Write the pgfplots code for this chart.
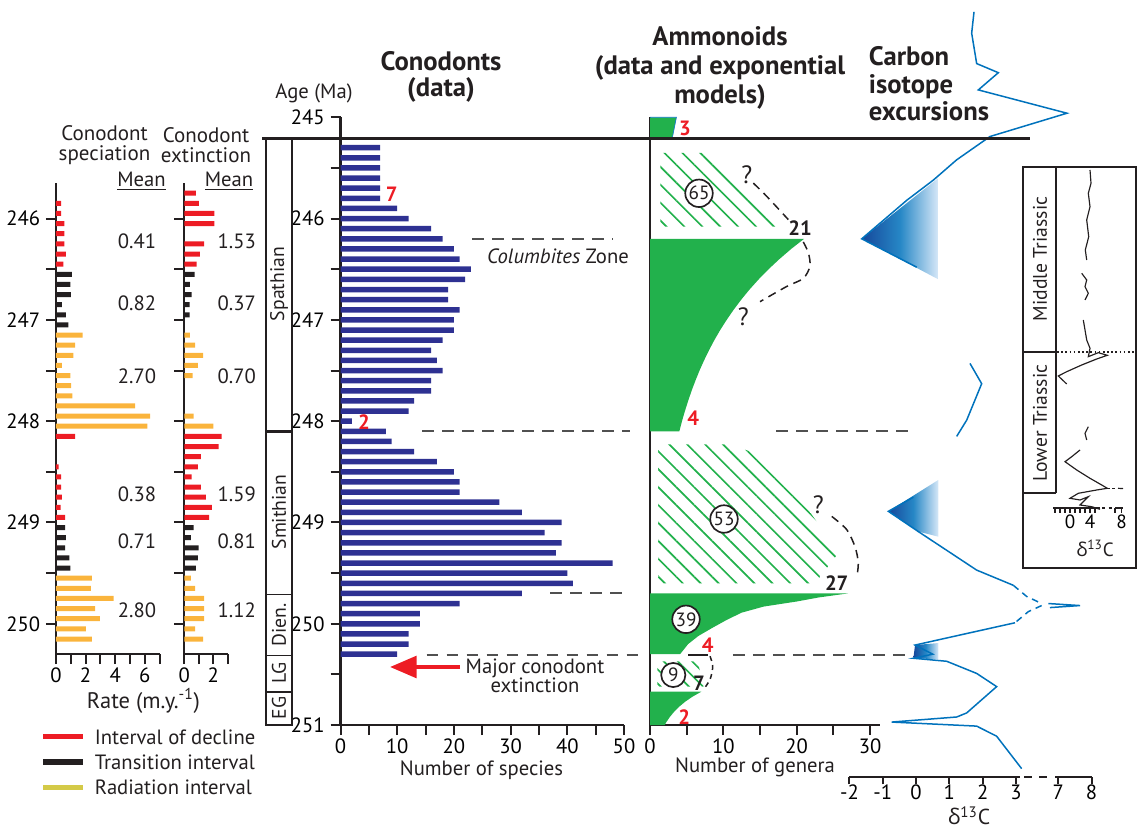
\documentclass[border=0pt]{standalone}
\usepackage{pgfplots}
\pgfplotsset{compat=1.18}
\usepackage{fontspec}
\setmainfont{PT Sans}
\newfontfamily\grk{Open Sans}
\usetikzlibrary{patterns.meta,arrows.meta}
\definecolor{cred}{RGB}{237,28,36}
\definecolor{cblk}{RGB}{35,31,32}
\definecolor{cyel}{RGB}{250,180,60}
\definecolor{cnavy}{RGB}{46,49,146}
\definecolor{cgreen}{RGB}{34,177,76}
\definecolor{cblue}{RGB}{0,114,188}
\definecolor{cdark}{RGB}{22,72,155}
\definecolor{clight}{RGB}{215,232,248}
\definecolor{cgray}{RGB}{80,80,80}
\definecolor{clegy}{RGB}{212,202,72}
\newcommand{\fn}{\fontsize{12.4}{14}\selectfont}
\pgfplotsset{
  rowax/.style={scale only axis, anchor=center, clip=false,
    font=\fn, tick label style={font=\fn},
    /pgf/number format/assume math mode=true,
    y dir=reverse,
    axis x line=bottom, axis y line=left,
    axis line style={-, line width=1.4pt, draw=cblk},
    tick style={line width=1.2pt, draw=cblk},
    xticklabel style={yshift=1.5pt},
    major tick length=6pt, tick align=outside},
}
\begin{document}
\begin{tikzpicture}
\path[use as bounding box] (0,0) rectangle (682.2pt,499.2pt);

% ---------------- Conodont speciation ----------------
\begin{axis}[rowax, at={(64.68pt,248.01pt)}, width=62.16pt, height=282.66pt,
  xmin=0, xmax=7, ymin=245.65, ymax=250.3,
  xtick={0,1,2,3,4,5,6,7}, xticklabels={0,,2,,4,,6,},
  ytick={246,246.5,247,247.5,248,248.5,249,249.5,250},
  yticklabels={246,,247,,248,,249,,250}]
\addplot[xbar, bar width=3pt, fill=cred, draw=none] coordinates {
 (0.34,245.85) (0.34,245.95) (0.56,246.05) (0.56,246.15) (0.56,246.25) (0.67,246.35) (0.49,246.45)
 (1.30,248.15) (0.18,248.45) (0.34,248.55) (0.34,248.65) (0.40,248.75) (0.31,248.85) (0.61,248.95)};
\addplot[xbar, bar width=3pt, fill=cblk, draw=none] coordinates {
 (1.08,246.55) (0.97,246.65) (1.01,246.75) (0.40,246.85) (0.67,246.95) (0.83,247.05)
 (0.61,249.05) (0.67,249.15) (0.61,249.25) (0.90,249.35) (0.97,249.45)};
\addplot[xbar, bar width=3pt, fill=cyel, draw=none] coordinates {
 (1.80,247.15) (1.30,247.25) (1.17,247.35) (0.40,247.45) (0.97,247.55) (1.03,247.65) (1.10,247.75)
 (5.35,247.85) (6.36,247.95) (6.18,248.05)
 (2.43,249.55) (2.36,249.65) (3.89,249.75) (2.65,249.85) (2.97,249.95) (2.02,250.05) (2.43,250.15)};
\end{axis}

% ---------------- Conodont extinction ----------------
\begin{axis}[rowax, at={(123.63pt,248.01pt)}, width=26.1pt, height=282.66pt,
  xmin=0, xmax=3, ymin=245.65, ymax=250.3,
  xtick={0,1,2,3}, xticklabels={0,,2,},
  ytick={246,246.5,247,247.5,248,248.5,249,249.5,250}, yticklabels={}]
\addplot[xbar, bar width=3pt, fill=cred, draw=none] coordinates {
 (0.80,245.75) (1.00,245.85) (2.07,245.95) (2.07,246.05) (1.36,246.25) (1.08,246.35) (0.85,246.45)
 (2.57,248.15) (2.37,248.25) (1.15,248.35) (0.94,248.45) (0.51,248.55) (1.15,248.65) (1.49,248.75) (1.91,248.85) (1.72,248.95)};
\addplot[xbar, bar width=3pt, fill=cblk, draw=none] coordinates {
 (0.71,246.55) (0.39,246.65) (0.51,246.75) (0.37,246.85) (0.37,246.95)
 (0.64,249.05) (0.46,249.15) (0.99,249.25) (0.94,249.35) (0.80,249.45)};
\addplot[xbar, bar width=3pt, fill=cyel, draw=none] coordinates {
 (0.39,247.15) (0.74,247.25) (1.29,247.35) (0.94,247.45) (0.57,247.55) (0.64,247.95) (2.00,248.05)
 (0.46,249.55) (0.74,249.65) (1.36,249.75) (1.36,249.85) (1.36,249.95) (0.74,250.05) (1.29,250.15)};
\end{axis}

% ---------------- Conodonts (number of species) ----------------
\begin{axis}[rowax, at={(289.35pt,246.48pt)}, width=170.1pt, height=364.68pt,
  xmin=0, xmax=50, ymin=245, ymax=251,
  xtick={0,5,10,15,20,25,30,35,40,45,50}, xticklabels={0,,10,,20,,30,,40,,50},
  ytick={245,245.5,246,246.5,247,247.5,248,248.5,249,249.5,250,250.5,251},
  yticklabels={245,,246,,247,,248,,249,,250,,251}]
\addplot[xbar, bar width=3.3pt, fill=cnavy, draw=none] coordinates {
 (7,245.3) (7,245.4) (7,245.5) (7,245.6) (7,245.7) (7,245.8) (10,245.9) (12,246.0)
 (16,246.1) (18,246.2) (20,246.3) (21,246.4) (23,246.5) (22,246.6) (19,246.7) (19,246.8)
 (21,246.9) (20,247.0) (20,247.1) (18,247.2) (16,247.3) (17,247.4) (18,247.5) (16,247.6)
 (16,247.7) (13,247.8) (12,247.9) (2,248.0) (8,248.1) (9,248.2) (13,248.3) (17,248.4)
 (20,248.5) (21,248.6) (21,248.7) (28,248.8) (32,248.9) (39,249.0) (36,249.1) (39,249.2)
 (38,249.3) (48,249.4) (40,249.5) (41,249.6) (32,249.7) (21,249.8) (14,249.9) (14,250.0)
 (12,250.1) (12,250.2) (10,250.3)};
\addplot[cgray, line width=1.2pt, dash pattern=on 7pt off 5pt] coordinates {(23.2,246.2) (47.9,246.2)};
\addplot[cgray, line width=1.2pt, dash pattern=on 7pt off 5pt] coordinates {(14.4,248.1) (51.1,248.1)};
\addplot[cgray, line width=1.2pt, dash pattern=on 7pt off 5pt] coordinates {(37.0,249.7) (50.6,249.7)};
\addplot[cgray, line width=1.2pt, dash pattern=on 7pt off 5pt] coordinates {(15.2,250.31) (52.8,250.31)};
\end{axis}

% ---------------- Ammonoids ----------------
\begin{axis}[rowax, at={(459.09pt,246.48pt)}, width=138.18pt, height=364.68pt,
  xmin=0, xmax=31.4, ymin=245, ymax=251,
  xtick={0,5,10,15,20,25,30}, xticklabels={0,,10,,20,,30}, ytick=\empty]
\addplot[fill=cgreen, draw=cyan!60!blue, line width=0.4pt] coordinates {(0,245) (3.6,245) (3.05,245.2) (0,245.2)};
\addplot[fill=cgreen, draw=none] coordinates {
 (0,246.2) (21,246.2) (19.24,246.3) (17.64,246.4) (16.16,246.5) (14.81,246.6) (13.57,246.7)
 (12.44,246.8) (11.40,246.9) (10.45,247.0) (9.57,247.1) (8.77,247.2) (8.04,247.3) (7.37,247.4)
 (6.75,247.5) (6.19,247.6) (5.67,247.7) (5.20,247.8) (4.76,247.9) (4.36,248.0) (4.00,248.1) (0,248.1)};
\addplot[fill=cgreen, draw=none] coordinates {
 (0,249.7) (27,249.7) (23,249.74) (20,249.78) (15.5,249.83) (12.5,249.89) (10.5,249.96)
 (8.5,250.04) (6.6,250.12) (5.2,250.2) (4.1,250.3) (0,250.3)};
\addplot[fill=cgreen, draw=none] coordinates {
 (0,250.67) (7,250.67) (5.78,250.72) (4.78,250.77) (3.95,250.82) (3.27,250.87) (2.70,250.92) (2.23,250.97) (2,251) (0,251)};
\addplot[draw=none, pattern={Lines[angle=-45,distance=7.6pt,line width=1pt]}, pattern color=cgreen] coordinates {
 (1.4,245.35) (7.5,245.35) (17.3,246.08) (1.4,246.08)};
\addplot[draw=none, pattern={Lines[angle=-45,distance=7.6pt,line width=1pt]}, pattern color=cgreen] coordinates {
 (1.1,248.23) (10.9,248.23) (14.5,248.32) (20,248.71) (25.7,249.30) (22.5,249.60) (1.1,249.60)};
\addplot[draw=none, pattern={Lines[angle=-45,distance=6pt,line width=1pt]}, pattern color=cgreen] coordinates {
 (1,250.37) (6.5,250.37) (7.3,250.62) (1,250.62)};
\addplot[cblk, line width=0.9pt, dash pattern=on 5pt off 3.5pt, smooth] coordinates {
 (14.09,245.65) (15.91,245.78) (18.86,246.01)};
\addplot[cblk, line width=0.9pt, dash pattern=on 5pt off 3.5pt, smooth] coordinates {
 (20.9,246.23) (21.6,246.34) (21.8,246.47) (20.9,246.59) (18.64,246.67) (15.0,246.82)};
\addplot[cblk, line width=0.9pt, dash pattern=on 5pt off 3.5pt, smooth] coordinates {
 (24.78,248.94) (26.82,249.07) (27.95,249.24) (28.4,249.40) (28.19,249.54)};
\addplot[cblk, line width=0.9pt, dash pattern=on 3pt off 2.5pt, smooth] coordinates {
 (8.18,250.32) (8.55,250.42) (8.18,250.55) (7.27,250.65)};
\addplot[cblk, line width=1.4pt] coordinates {(5.23,250.31) (7.95,250.31)};
\addplot[cgray, line width=1.2pt, dash pattern=on 7pt off 5pt] coordinates {(17.2,248.1) (35.5,248.1)};
\addplot[cgray, line width=1.2pt, dash pattern=on 7pt off 5pt] coordinates {(11.3,250.31) (35.5,250.31)};
\end{axis}

% ---------------- Carbon isotopes ----------------
\begin{axis}[rowax, at={(582.3pt,264.42pt)}, width=145.32pt, height=462.56pt,
  xmin=-2, xmax=5.27, ymin=243.9, ymax=251.51,
  axis y line=none, x axis line style={draw=none},
  major tick length=4.5pt, xticklabel style={yshift=1.5pt},
  xtick={-2,-1,0,1,2,3,4.27,5.27}, xticklabels={-2,-1,0,1,2,3,7,8}]
\addplot[draw=none, left color=cdark, right color=clight, middle color=cblue!85] coordinates {
 (-1.63,246.2) (0.67,245.6) (0.67,246.6)};
\addplot[draw=none, left color=cdark, right color=clight, middle color=cblue!85] coordinates {
 (-0.83,248.89) (0.67,248.58) (0.67,249.14) (0.07,249.09)};
\addplot[draw=none, left color=cdark, right color=clight, middle color=cblue!85] coordinates {
 (-0.03,250.21) (0.67,250.19) (0.67,250.35) (-0.08,250.34)};
\addplot[cblue, line width=0.9pt] coordinates {
 (1.74,243.96) (1.67,244.17) (1.82,244.47) (2.47,244.56) (1.87,244.73) (4.53,244.96) (2.22,245.19)
 (1.22,245.42) (0.52,245.62) (-0.28,245.82) (-1.63,246.2) (0.02,246.48)};
\addplot[cblue, line width=0.9pt] coordinates {(1.62,247.43) (1.97,247.63) (1.52,247.99) (1.22,248.15)};
\addplot[cblue, line width=0.9pt] coordinates {(-0.08,248.75) (-0.83,248.89) (0.07,249.09) (1.82,249.47) (2.92,249.62)};
\addplot[cblue, line width=0.9pt, dash pattern=on 4pt off 3pt] coordinates {(2.92,249.62) (3.32,249.73) (3.77,249.80)};
\addplot[cblue, line width=0.9pt, dash pattern=on 4pt off 3pt] coordinates {(3.77,249.82) (3.37,249.88) (2.97,249.99)};
\addplot[cblue, line width=0.9pt] coordinates {(3.97,249.80) (4.92,249.82) (4.02,249.84)};
\addplot[cblue, line width=0.9pt] coordinates {
 (2.97,249.99) (0.92,250.14) (-0.03,250.21) (0.5,250.30) (-0.08,250.34) (0.92,250.37) (1.82,250.49)
 (2.42,250.62) (1.52,250.88) (1.22,250.92) (-0.73,250.97) (1.82,251.01) (2.42,251.11) (3.17,251.43)};
\end{axis}

% ---------------- Inset ----------------
\begin{axis}[rowax, at={(653.01pt,296.79pt)}, width=40.02pt, height=204.78pt,
  xmin=-3, xmax=10.34, ymin=166.7, ymax=508,
  axis y line=none, x axis line style={draw=none},
  major tick length=3pt, tick style={line width=0.9pt},
  tick label style={font=\fontsize{11.5}{13}\selectfont},
  xtick={-3,-2,-1,0,1,2,3,4,5,9,10.34}, xticklabels={,,,0,,,,4,,,8},
  xticklabel style={yshift=1pt}]
\addplot[cblk, line width=0.7pt] coordinates {(4.0,170) (4.2,183.3) (3.66,193.3) (4.0,206.7) (3.34,220) (3.74,236.7) (3.06,250) (3.34,260)};
\addplot[cblk, line width=0.7pt] coordinates {(2.34,273.3) (3.34,280) (3.0,286.7) (3.66,293.3) (3.0,300)};
\addplot[cblk, line width=0.7pt] coordinates {(2.66,320) (3.0,330) (3.34,340) (4.0,348.3) (3.66,356.7) (5.66,352.7) (7.46,355.3) (5.34,359) (2.34,365) (-0.66,371.7) (-2.34,376) (-0.66,384)};
\addplot[cblk, line width=0.7pt] coordinates {(3.66,426.7) (3.0,433.3) (3.34,440)};
\addplot[cblk, line width=0.7pt] coordinates {(2.0,450) (0.34,456.7) (-1.0,461.7) (1.34,470) (4.0,478.3) (6.34,485) (7.46,488.3)};
\addplot[cblk, line width=0.7pt, dash pattern=on 1.5pt off 1.5pt] coordinates {(7.46,488.3) (9.4,488.3)};
\addplot[cblk, line width=0.7pt] coordinates {(9.6,488.3) (10.6,488.6)};
\addplot[cblk, line width=0.7pt] coordinates {(7.46,488.3) (5.34,490) (1.66,493.3) (0,498.3) (2.0,500) (3.66,496.7) (2.0,505) (4.34,506.7) (6.0,509.3)};
\end{axis}

% ---------------- annotations in pixel coordinates ----------------
\begin{scope}[x=0.6pt, y=-0.6pt, yshift=499.2pt, every node/.style={font=\fn, text=cblk}]
% titles
\node[align=center, font=\fontsize{12.6}{12}\selectfont] at (104.5,145) {Conodont\\speciation};
\node[align=center, font=\fontsize{12.6}{12}\selectfont] at (206,145) {Conodont\\extinction};
\node at (141.5,181) {\underline{Mean}};
\node at (229,181) {\underline{Mean}};
\foreach \yy/\a/\b in {241.7/0.41/1.53, 303.3/0.82/0.37, 376.7/2.70/0.70, 494/0.38/1.59, 541/0.71/0.81, 610/2.80/1.12}{
  \node at (137,\yy) {\a};
  \node at (236.7,\yy) {\b};
}
\node[font=\fontsize{13.5}{15}\selectfont] at (143.5,701) {Rate (m.y.\textsuperscript{-1})};
\draw[cred, line width=3pt] (43,737) -- (83,737);
\draw[cblk, line width=3pt] (43,762) -- (83,762);
\draw[clegy, line width=3pt] (43,787) -- (83,787);
\node[anchor=west] at (89,737) {Interval of decline};
\node[anchor=west] at (89,762) {Transition interval};
\node[anchor=west] at (89,787) {Radiation interval};

\node at (314,93) {Age (Ma)};
\node[align=center, font=\fontsize{16}{15.6}\selectfont\bfseries] at (441,77) {Conodonts\\(data)};
\node[align=center, font=\fontsize{16}{17.6}\selectfont\bfseries] at (720,68) {Ammonoids\\(data and exponential\\models)};
\node[align=left, anchor=west, font=\fontsize{16}{16.5}\selectfont\bfseries] at (863,84) {Carbon\\isotope\\excursions};

% stage boxes
\draw[line width=1.3pt, cblk] (266,138.3) rectangle (292,431.5);
\draw[line width=1pt, cblk] (266,431.5) rectangle (292,594.6);
\draw[line width=1pt, cblk] (266,594.6) rectangle (292,655.5);
\draw[line width=1pt, cblk] (266,655.5) rectangle (292,691.7);
\draw[line width=1pt, cblk] (266,691.7) rectangle (292,725);
\begin{scope}[every node/.style={font=\fontsize{11.8}{13}\selectfont, text=cblk, rotate=90}]
\node at (279,284) {Spathian};
\node at (279,512) {Smithian};
\node at (279,625) {Dien.};
\node at (279,673) {LG};
\node at (279,708) {EG};
\node at (1040,259) {Middle Triassic};
\node at (1040,423) {Lower Triassic};
\end{scope}
\draw[line width=1.5pt, cblk] (262,138.3) -- (1030,138.3);

% conodont annotations
\node[text=cred, font=\fn\bfseries] at (391.7,194.3) {7};
\node[text=cred, font=\fn\bfseries] at (364,421.7) {2};
\node at (558,256) {\textit{Columbites} Zone};
\draw[cred, line width=2.3pt, -{Triangle[length=16pt,width=13pt]}] (460,667) -- (390,667);
\node[align=center, font=\fontsize{12.4}{11.5}\selectfont] at (535,676) {Major conodont\\extinction};
\node at (481.5,770) {Number of species};

% ammonoid annotations
\node[text=cred, font=\fn\bfseries] at (685,128) {3};
\node[text=cred, font=\fn\bfseries] at (693.3,418.3) {4};
\node[text=cred, font=\fn\bfseries] at (707.7,645.7) {4};
\node[text=cred, font=\fn\bfseries] at (684.3,716.7) {2};
\node[font=\fn\bfseries] at (800,228.3) {21};
\node[font=\fn\bfseries] at (836.7,582.7) {27};
\node[font=\fn\bfseries] at (699,683.3) {7};
\node[font=\fontsize{15}{16}\selectfont] at (746.7,175) {?};
\node[font=\fontsize{15}{16}\selectfont] at (743.3,316.7) {?};
\node[font=\fontsize{15}{16}\selectfont] at (818.3,505) {?};
\node[circle, draw=cblk, line width=1pt, fill=white, inner sep=0.3pt, minimum size=16.5pt, font=\fontsize{11.5}{13}\selectfont] at (699,193.3) {65};
\node[circle, draw=cblk, line width=1pt, fill=white, inner sep=0.3pt, minimum size=16.5pt, font=\fontsize{11.5}{13}\selectfont] at (724,519) {53};
\node[circle, draw=cblk, line width=1pt, fill=white, inner sep=0.3pt, minimum size=16.5pt, font=\fontsize{11.5}{13}\selectfont] at (686,619.3) {39};
\node[circle, draw=cblk, line width=1pt, fill=white, inner sep=0.3pt, minimum size=14.5pt, font=\fontsize{11.5}{13}\selectfont] at (673.3,675) {9};
\node at (755,767) {Number of genera};

% carbon axis line with break
\draw[cblk, line width=1.4pt] (849.4,776.8) -- (1020,776.8);
\draw[cblk, line width=1.4pt, dash pattern=on 5pt off 4pt] (1024,776.8) -- (1052,776.8);
\draw[cblk, line width=1.4pt] (1055,776.8) -- (1091.6,776.8);
\node[font=\fontsize{13}{14}\selectfont] at (969,816) {{\grk δ}\textsuperscript{13}C};

% inset frame
\draw[cblk, line width=1pt] (1023,166.7) rectangle (1136,568);
\draw[cblk, line width=1.2pt] (1056,166.7) -- (1056,493.3);
\draw[cblk, line width=1.2pt] (1023,352) -- (1056,352);
\draw[cblk, line width=1.2pt] (1023,493.3) -- (1056,493.3);
\draw[cblk, line width=1pt, dash pattern=on 1pt off 1.5pt] (1057,352) -- (1136,352);
\draw[cblk, line width=1.2pt] (1053,508) -- (1100,508);
\draw[cblk, line width=1.2pt, dash pattern=on 2pt off 2pt] (1102,508) -- (1113,508);
\draw[cblk, line width=1.2pt] (1115,508) -- (1123,508);
\node[font=\fontsize{11.5}{13}\selectfont] at (1095,548) {{\grk δ}\textsuperscript{13}C};
\end{scope}
\end{tikzpicture}
\end{document}
